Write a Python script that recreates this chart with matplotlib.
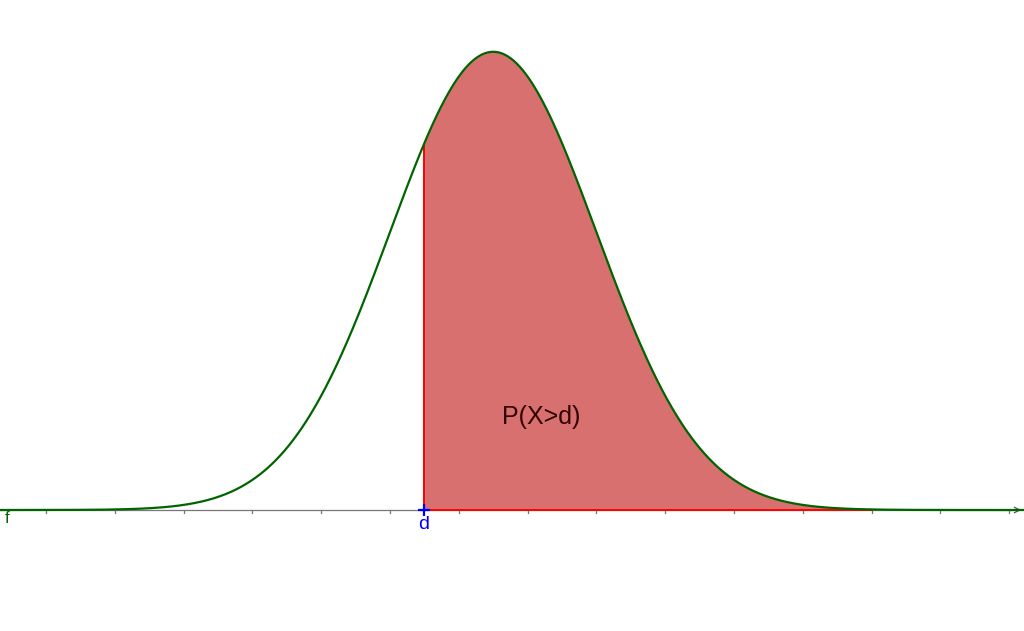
import numpy as np
import matplotlib
matplotlib.use("Agg")
from matplotlib import pyplot as plt

# 正規分布のパラメータ（目盛り単位）
mu = 6.5
sigma = 1.5
peak = 6.66
d = 5.49
upper = 12.0
tick_positions = list(range(0, 15))

plt.rcParams['font.family'] = ['Liberation Sans', 'DejaVu Sans']


def f(x):
    return peak * np.exp(-(x - mu) ** 2 / (2 * sigma ** 2))


fig = plt.figure(figsize=(10.24, 6.31), dpi=100)
ax = fig.add_axes([0, 0, 1, 1])
ax.set_axis_off()

# ピクセル -> データ座標 (1目盛り = 68.8px, 目盛り0 = 46px, 軸 y = 510px)
px = 68.8
ax.set_xlim(-46 / px, (1024 - 46) / px)
ax.set_ylim(-(631 - 510) / px, 510 / px)

# x軸
ax.plot([-46 / px, (1018 - 46) / px], [0, 0], color='#777777', lw=0.9, zorder=1)
ax.annotate('', xy=((1024 - 46) / px, 0), xytext=((1012 - 46) / px, 0),
            arrowprops=dict(arrowstyle='->', color='#555555', lw=0.9))
for t in tick_positions:
    ax.plot([t, t], [0, -3 / px], color='#777777', lw=0.9, zorder=1)

# 塗りつぶし領域
xs = np.linspace(d, upper, 400)
ax.fill_between(xs, 0, f(xs), color='#D97070', lw=0, zorder=2)
ax.plot([d, d], [0, f(d)], color='#FF0000', lw=1.4, zorder=3)
ax.plot([d, upper], [0, 0], color='#FF0000', lw=1.4, zorder=3)

# 曲線
xx = np.linspace(-46 / px, (1024 - 46) / px, 1000)
ax.plot(xx, f(xx), color='#006400', lw=1.6, zorder=4)

# 点 d
ax.plot([d], [0], marker='+', color='#0000FF', ms=8, mew=1.6, zorder=5)
ax.text(d, -6 / px, 'd', color='#0000FF', fontsize=14, ha='center', va='top')
ax.text(-41 / px, -1 / px, 'f', color='#006400', fontsize=12, ha='left', va='top')

ax.text((541 - 46) / px, (510 - 417) / px, 'P(X>d)', color='#300000',
        fontsize=18, ha='center', va='center', zorder=5)

plt.savefig('out.png', dpi=100)
